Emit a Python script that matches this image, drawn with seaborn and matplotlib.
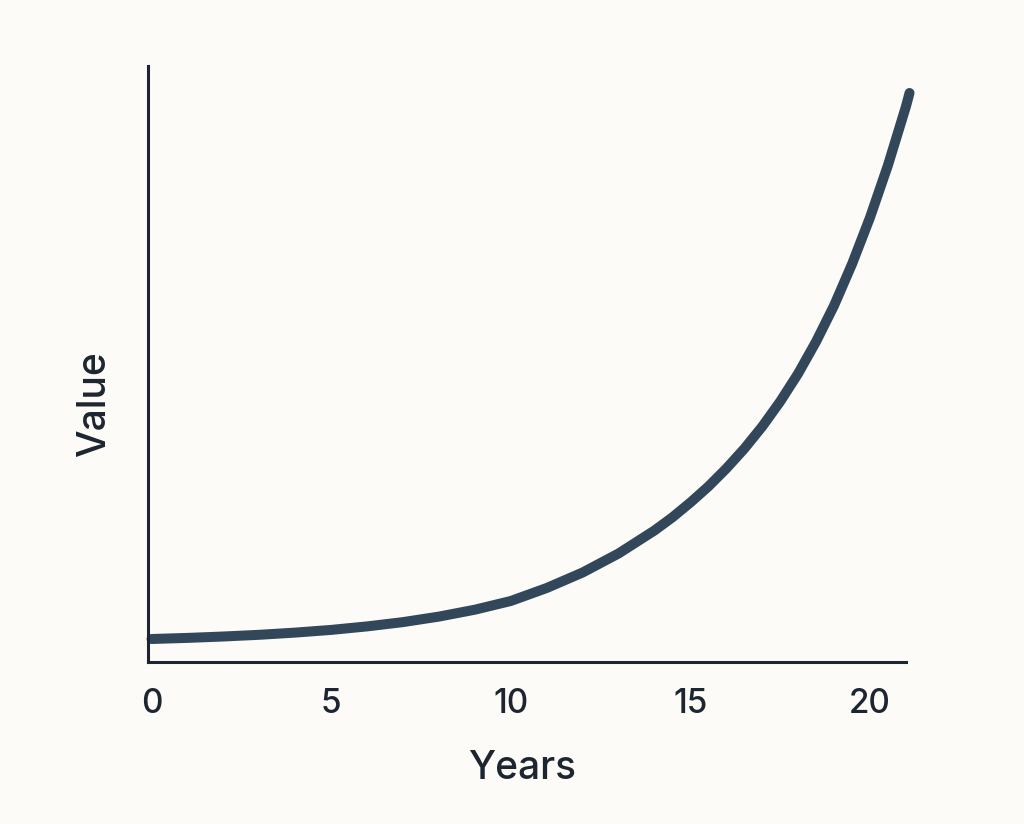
import numpy as np
import pandas as pd
import seaborn as sns
import matplotlib.pyplot as plt

# values
years = [0, 1, 2, 3, 4, 5, 6, 7, 8, 9, 10, 11, 12, 13, 14, 14.5, 15,
         15.5, 16, 16.5, 17, 17.5, 18, 18.5, 19, 19.5, 20, 20.5, 21, 21.1]
values = [23, 24.1, 25.5, 27.2, 29.4, 32.1, 35.6, 39.9, 45.4, 52.3, 61, 74,
          89.5, 108.5, 131.5, 144.7, 159.5, 175.5, 193.5, 213.3, 235.5, 260.5,
          288.5, 320.5, 356.5, 398, 444.5, 496.8, 555.5, 569]
xticks = [0, 5, 10, 15, 20]

df = pd.DataFrame({"Years": years, "Value": values})

bg = "#fcfbf7"
ink = "#1d2630"
line_col = "#33475b"

sns.set_style("white")
plt.rcParams["font.family"] = ["Inter", "DejaVu Sans"]

fig = plt.figure(figsize=(10.24, 8.24), dpi=100, facecolor=bg)
ax = fig.add_axes([0.1445, 0.1966, 0.7402, 0.7233])
ax.set_facecolor(bg)

sns.lineplot(data=df, x="Years", y="Value", ax=ax, color=line_col, lw=7.2,
             solid_capstyle="round", solid_joinstyle="round", clip_on=False)

ax.set_xlim(-0.1, 21.0)
ax.set_ylim(0, 596)
ax.set_xticks(xticks)
ax.set_xticklabels([str(t) for t in xticks])
ax.set_yticks([])

ax.tick_params(axis="x", length=0, pad=19, labelsize=24, colors=ink)
for lab in ax.get_xticklabels():
    lab.set_fontweight("medium")

for side in ["top", "right"]:
    ax.spines[side].set_visible(False)
for side in ["left", "bottom"]:
    ax.spines[side].set_color(ink)
    ax.spines[side].set_linewidth(2.2)

ax.set_xlabel("Years", fontsize=28, color=ink, fontweight="medium", va="center")
ax.set_ylabel("Value", fontsize=28, color=ink, fontweight="medium", va="center")
ax.xaxis.set_label_coords(0.493, -0.178)
ax.yaxis.set_label_coords(-0.07, 0.433)

plt.savefig("out.png", dpi=100, facecolor=bg)
